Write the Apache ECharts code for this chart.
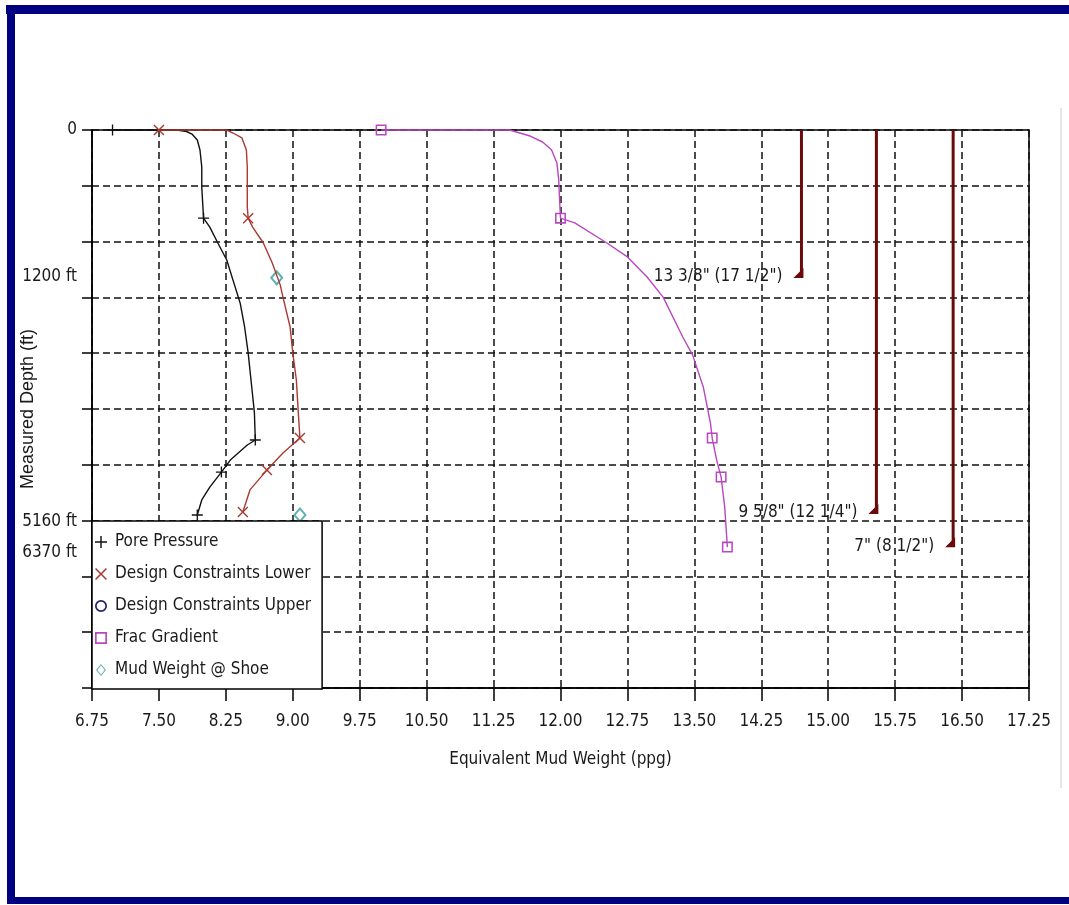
<!DOCTYPE html>
<html><head><meta charset="utf-8">
<script src="https://cdn.jsdelivr.net/npm/echarts@6/dist/echarts.min.js"></script>
<style>
html,body{margin:0;padding:0;background:#fff;width:1069px;height:905px;overflow:hidden}
#chart{position:absolute;left:0;top:0;width:1069px;height:905px}
.bar{position:absolute;background:#000080}
</style></head><body>
<div class="bar" style="left:6px;top:5px;width:1063px;height:9px"></div>
<div class="bar" style="left:7px;top:5px;width:8px;height:899px"></div>
<div class="bar" style="left:7px;top:897px;width:1062px;height:7px"></div>
<div style="position:absolute;left:1060px;top:108px;width:2px;height:680px;background:#e6e6e6"></div>
<div id="chart"></div>
<script>
// ---- data ----
// depth values are in the chart's vertical plotting units (10 gridlines of 1000)
const porePressureX = [6.98, 7.70, 7.81, 7.87, 7.93, 7.96, 7.98, 7.98, 8.00, 8.07, 8.16, 8.26, 8.33, 8.41, 8.46, 8.50, 8.54, 8.57, 8.58, 8.49, 8.30, 8.20, 8.07, 7.98, 7.93];
const porePressureDepth = [0, 0, 27, 72, 179, 358, 663, 1022, 1580, 1740, 2025, 2330, 2690, 3100, 3530, 3995, 4605, 5070, 5555, 5645, 5915, 6130, 6400, 6630, 6900];
const porePressureMarks = [0, 8, 18, 21, 24];

const lowerX = [7.50, 8.26, 8.33, 8.43, 8.48, 8.49, 8.49, 8.50, 8.55, 8.67, 8.77, 8.86, 8.89, 8.97, 9.00, 9.04, 9.06, 9.08, 8.89, 8.71, 8.52, 8.44];
const lowerDepth = [0, 0, 54, 143, 358, 663, 1380, 1580, 1740, 2025, 2385, 2780, 2995, 3530, 3995, 4480, 5020, 5520, 5790, 6095, 6450, 6845];
const lowerMarks = [0, 7, 17, 19, 21];

const upperX = [];
const upperDepth = [];

const fracX = [9.99, 11.43, 11.66, 11.80, 11.90, 11.96, 11.98, 11.99, 12.00, 12.16, 12.52, 12.75, 12.97, 13.15, 13.37, 13.48, 13.60, 13.68, 13.70, 13.75, 13.80, 13.84, 13.87];
const fracDepth = [0, 0, 108, 215, 358, 590, 895, 1255, 1580, 1665, 2025, 2275, 2635, 2995, 3710, 4030, 4605, 5250, 5520, 5915, 6220, 6755, 7475];
const fracMarks = [0, 8, 18, 20, 22];

const mudShoeX = [8.82, 9.08];
const mudShoeDepth = [2650, 6900];

const casingNames = ['13 3/8" (17 1/2")', '9 5/8" (12 1/4")', '7" (8 1/2")'];
const casingX = [14.70, 15.54, 16.40];
const casingShoe = [2635, 6865, 7460];

const yLabelPos = [0, 2635, 7025, 7580];
const yLabelText = ['0', '1200 ft', '5160 ft', '6370 ft'];

const seriesNames = ['Pore Pressure', 'Design Constraints Lower', 'Design Constraints Upper', 'Frac Gradient', 'Mud Weight @ Shoe'];

// ---- fonts: prefer a condensed face (the reference text is narrow) ----
function fontAvailable(name) {
  const ctx = document.createElement('canvas').getContext('2d');
  const s = 'Design Constraints Lower 0123456789';
  ctx.font = '20px monospace'; const a = ctx.measureText(s).width;
  ctx.font = '20px "' + name + '", monospace'; const b = ctx.measureText(s).width;
  return Math.abs(a - b) > 0.5;
}
let NARROW = '"Liberation Sans", Arial, sans-serif', FS = 17;
const condensed = [['Liberation Sans Narrow', 21], ['Arial Narrow', 21], ['DejaVu Sans Condensed', 17], ['Roboto Condensed', 20], ['Open Sans Condensed', 20]];
for (const [f, size] of condensed) { if (fontAvailable(f)) { NARROW = '"' + f + '", sans-serif'; FS = size; break; } }

// ---- styling ----
const PLUS = 'path://M4.4,0 H5.6 V4.4 H10 V5.6 H5.6 V10 H4.4 V5.6 H0 V4.4 H4.4 Z';
const CROSS = 'path://M0,0.9 L0.9,0 L5,4.1 L9.1,0 L10,0.9 L5.9,5 L10,9.1 L9.1,10 L5,5.9 L0.9,10 L0,9.1 L4.1,5 Z';
const RING = 'path://M5,0 A5,5 0 1,1 5,10 A5,5 0 1,1 5,0 Z M5,1.4 A3.6,3.6 0 1,0 5,8.6 A3.6,3.6 0 1,0 5,1.4 Z';
const SQUARE = 'path://M0,0 H10 V10 H0 Z M1.4,1.4 V8.6 H8.6 V1.4 Z';
const DIAMOND = 'path://M5,0 L10,6 L5,12 L0,6 Z M5,1.6 L1.3,6 L5,10.4 L8.7,6 Z';
const SHOE = 'path://M0,10 L10,0 L10,10 Z';
const C_PORE = '#111111', C_LOW = '#a83a32', C_UP = '#202068', C_FRAC = '#b848c0', C_MUD = '#3c9c9c', C_CASE = '#6a0a0a';

function build(xs, ds, marks, sym, size) {
  return xs.map((x, i) => marks.indexOf(i) >= 0
    ? { value: [x, ds[i]], symbol: sym, symbolSize: size }
    : { value: [x, ds[i]], symbol: 'none' });
}

const chart = echarts.init(document.getElementById('chart'), null, { renderer: 'canvas' });

const series = [
  { name: seriesNames[0], type: 'line', data: build(porePressureX, porePressureDepth, porePressureMarks, PLUS, 11),
    lineStyle: { color: C_PORE, width: 1.4 }, itemStyle: { color: C_PORE } },
  { name: seriesNames[1], type: 'line', data: build(lowerX, lowerDepth, lowerMarks, CROSS, 11),
    lineStyle: { color: C_LOW, width: 1.4 }, itemStyle: { color: C_LOW } },
  { name: seriesNames[2], type: 'line', data: upperX.map((x, i) => [x, upperDepth[i]]),
    symbol: RING, lineStyle: { color: C_UP, width: 1.3 }, itemStyle: { color: C_UP } },
  { name: seriesNames[3], type: 'line', data: build(fracX, fracDepth, fracMarks, SQUARE, 11),
    lineStyle: { color: C_FRAC, width: 1.4 }, itemStyle: { color: C_FRAC } },
  { name: seriesNames[4], type: 'scatter', data: mudShoeX.map((x, i) => [x, mudShoeDepth[i]]),
    symbol: 'emptyDiamond', symbolSize: [11, 13], itemStyle: { color: C_MUD, borderWidth: 1.3 } }
];

casingX.forEach((x, i) => {
  series.push({
    name: 'casing' + i, type: 'line',
    data: [
      { value: [x, 0], symbol: 'none' },
      { value: [x, casingShoe[i]], symbol: SHOE, symbolSize: [10, 10], symbolOffset: [-3, -4],
        label: { show: true, position: 'left', distance: 11, offset: [0, 4], formatter: casingNames[i],
                 fontFamily: NARROW, fontSize: FS, color: '#1a1a1a' } }
    ],
    lineStyle: { color: C_CASE, width: 3 }, itemStyle: { color: C_CASE }
  });
});

series.forEach(s => { s.silent = true; s.animation = false; if (s.type === 'line') { s.showSymbol = true; s.clip = false; } });

const axisLineStyle = { color: '#000', width: 1.5 };
const gridLineStyle = { color: '#111', type: [7, 4], width: 1.5 };

chart.setOption({
  animation: false,
  backgroundColor: 'transparent',
  grid: { left: 92, right: 40, top: 130, bottom: 217, show: true, borderColor: '#000', borderWidth: 1.5,
          containLabel: false, outerBoundsMode: 'none' },
  legend: {
    orient: 'vertical', left: 92, top: 521,
    backgroundColor: '#fff', borderColor: '#000', borderWidth: 1.5,
    padding: [11, 11, 9, 3], itemGap: 12, itemWidth: 18, itemHeight: 12,
    symbolKeepAspect: true, selectedMode: false,
    textStyle: { fontFamily: NARROW, fontSize: FS, color: '#1a1a1a', lineHeight: 20 },
    data: [
      { name: seriesNames[0], icon: PLUS, itemStyle: { color: C_PORE } },
      { name: seriesNames[1], icon: CROSS, itemStyle: { color: C_LOW } },
      { name: seriesNames[2], icon: RING, itemStyle: { color: C_UP } },
      { name: seriesNames[3], icon: SQUARE, itemStyle: { color: C_FRAC } },
      { name: seriesNames[4], icon: DIAMOND, itemStyle: { color: C_MUD } }
    ]
  },
  xAxis: {
    type: 'value', min: 6.75, max: 17.25, interval: 0.75,
    name: 'Equivalent Mud Weight (ppg)', nameLocation: 'middle', nameGap: 63, nameMoveOverlap: false,
    nameTextStyle: { fontFamily: NARROW, fontSize: FS, color: '#1a1a1a' },
    axisLine: { show: true, onZero: false, lineStyle: axisLineStyle },
    axisTick: { show: true, length: 13, lineStyle: axisLineStyle },
    axisLabel: { margin: 25, fontFamily: NARROW, fontSize: FS, color: '#1a1a1a', formatter: v => v.toFixed(2) },
    splitLine: { show: true, lineStyle: gridLineStyle }
  },
  yAxis: {
    type: 'value', inverse: true, min: 0, max: 10000, interval: 1000,
    name: 'Measured Depth (ft)', nameLocation: 'middle', nameGap: 55, nameRotate: 90, nameMoveOverlap: false,
    nameTextStyle: { fontFamily: '"Liberation Sans", Arial, sans-serif', fontSize: 18, color: '#1a1a1a' },
    axisLine: { show: true, onZero: false, lineStyle: axisLineStyle },
    axisTick: { show: true, length: 10, lineStyle: axisLineStyle },
    axisLabel: {
      customValues: yLabelPos, margin: 15, fontFamily: NARROW, fontSize: FS, color: '#1a1a1a',
      formatter: v => { const k = yLabelPos.indexOf(v); return k >= 0 ? yLabelText[k] : ''; }
    },
    splitLine: { show: true, lineStyle: gridLineStyle }
  },
  series: series
});
</script></body></html>
